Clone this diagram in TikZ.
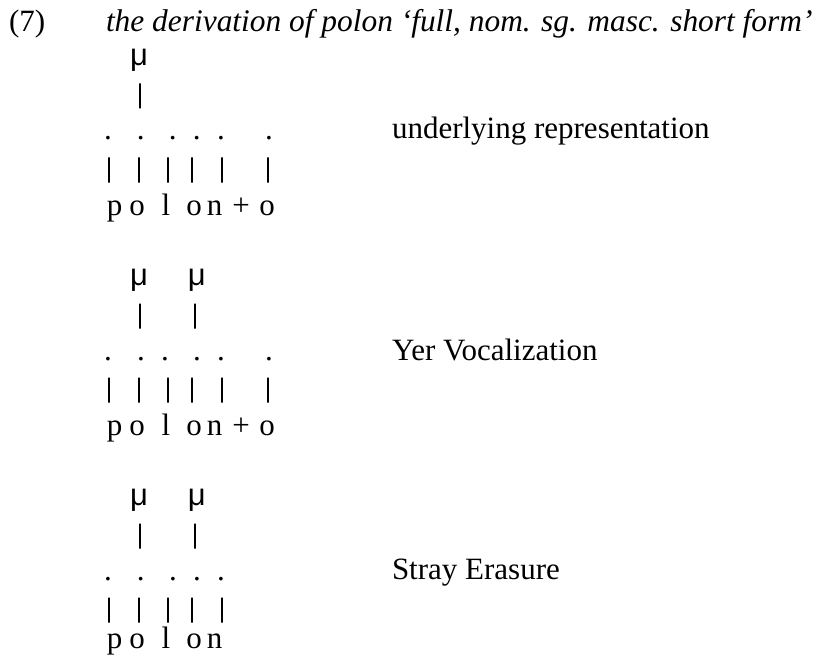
\documentclass[tikz,border=0pt]{standalone}
\usepackage{fontspec}
\setmainfont{Liberation Serif}
\newfontfamily\musans{Liberation Sans}
\newcommand\fs{\fontsize{31bp}{37bp}\selectfont}
\begin{document}
\begin{tikzpicture}[x=1bp,y=-1bp,
  every node/.style={inner sep=0pt, outer sep=0pt, anchor=base, font=\fs},
  lbl/.style={anchor=base west},
  mu/.style={font=\fs\musans},
  bar/.style={draw, line width=1.4bp, minimum width=0pt, minimum height=25bp, anchor=center}]
\useasboundingbox (0,0) rectangle (817,660);
% title
\node[lbl] (num) at (9,32) {(7)};
\node[lbl] (title) at (106,32) {\fontsize{31.4bp}{37bp}\selectfont\itshape the derivation of polon ‘full, nom. sg. masc. short form’};

% block 1: underlying representation
\node[mu] (m1a) at (139,65.5) {μ};
\node[bar] (u1a) at (140,96) {};
\foreach \i/\x in {a/108,b/140.7,c/172.7,d/196.7,e/221,f/269}
  \node (d1\i) at (\x,140) {.};
\foreach \i/\x in {a/109,b/139,c/168,d/192,e/222,f/268}
  \node[bar] (v1\i) at (\x,170) {};
\foreach \i/\x/\t in {a/114.5/p,b/137/o,c/166/l,d/194/o,e/214.5/n,f/241/+,g/267/o}
  \node (s1\i) at (\x,215) {\t};
\node[lbl] (r1) at (392,139) {underlying representation};

% block 2: Yer Vocalization
\node[mu] (m2a) at (139,285.5) {μ};
\node[mu] (m2b) at (196.7,285.5) {μ};
\node[bar] (u2a) at (140,316) {};
\node[bar] (u2b) at (195,316) {};
\foreach \i/\x in {a/108,b/141,c/165,d/197,e/221,f/269}
  \node (d2\i) at (\x,360) {.};
\foreach \i/\x in {a/109,b/139,c/168,d/192,e/222,f/268}
  \node[bar] (v2\i) at (\x,390) {};
\foreach \i/\x/\t in {a/114.5/p,b/137/o,c/166/l,d/194/o,e/214.5/n,f/241/+,g/267/o}
  \node (s2\i) at (\x,435) {\t};
\node[lbl] (r2) at (392,360) {Yer Vocalization};

% block 3: Stray Erasure
\node[mu] (m3a) at (139,505.5) {μ};
\node[mu] (m3b) at (196.7,505.5) {μ};
\node[bar] (u3a) at (140,536) {};
\node[bar] (u3b) at (195,536) {};
\foreach \i/\x in {a/108,b/140.7,c/173,d/197,e/221}
  \node (d3\i) at (\x,580) {.};
\foreach \i/\x in {a/109,b/139,c/168,d/192,e/222}
  \node[bar] (v3\i) at (\x,610) {};
\foreach \i/\x/\t in {a/114.5/p,b/137/o,c/166/l,d/194/o,e/214.5/n}
  \node (s3\i) at (\x,648) {\t};
\node[lbl] (r3) at (392,579) {Stray Erasure};
\end{tikzpicture}
\end{document}
